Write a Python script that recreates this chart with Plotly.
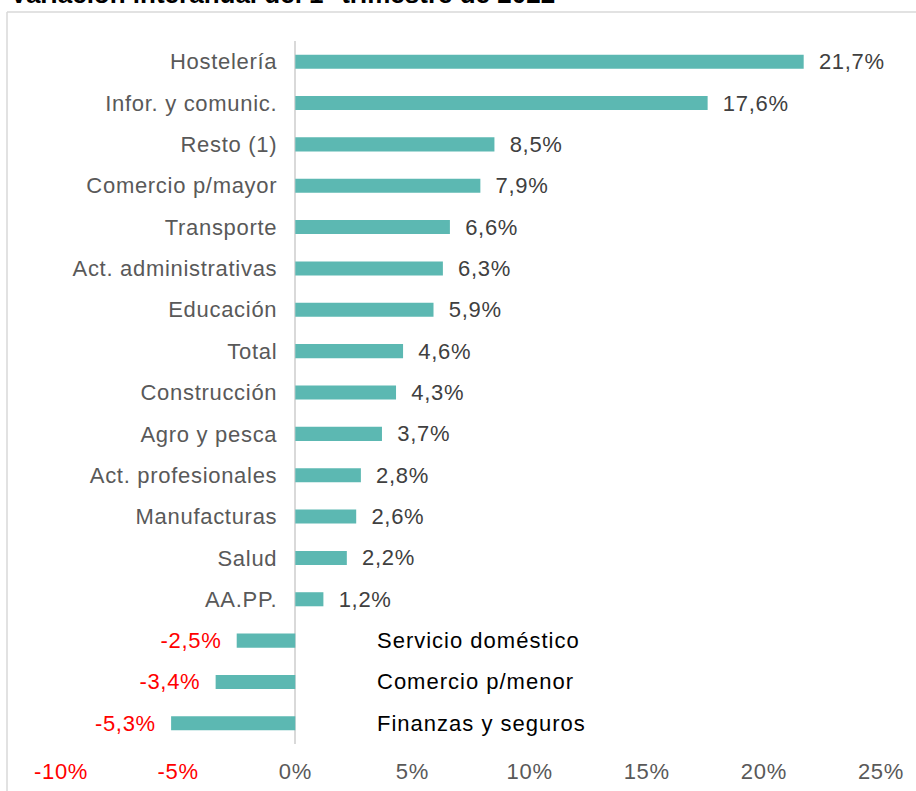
import plotly.graph_objects as go

categories = ["Hostelería", "Infor. y comunic.", "Resto (1)", "Comercio p/mayor", "Transporte",
              "Act. administrativas", "Educación", "Total", "Construcción", "Agro y pesca",
              "Act. profesionales", "Manufacturas", "Salud", "AA.PP.", "Servicio doméstico",
              "Comercio p/menor", "Finanzas y seguros"]
values = [21.7, 17.6, 8.5, 7.9, 6.6, 6.3, 5.9, 4.6, 4.3, 3.7, 2.8, 2.6, 2.2, 1.2, -2.5, -3.4, -5.3]
x_ticks = [-10, -5, 0, 5, 10, 15, 20, 25]
x_range = [-10, 25]
title_text = "Variación interanual del 1° trimestre de 2022"

FONT = "Liberation Sans, Arial, sans-serif"
BAR = "#5CB8B2"
NBSP = "\u00a0"
LS = "letter-spacing:0.7px"

def spaced(s, ls=LS):
    return f"<span style='{ls}'>{s}</span>"

def fmt(v):
    s = f"{v:.1f}".replace(".", ",") + "%"
    return NBSP * 2 + spaced(s) if v >= 0 else spaced(s) + NBSP * 2

texts = [fmt(v) for v in values]
text_colors = ["#404040" if v >= 0 else "#FF0000" for v in values]

fig = go.Figure(go.Bar(
    x=values, y=categories, orientation="h",
    marker=dict(color=BAR, line=dict(width=0)),
    text=texts, textposition="outside", cliponaxis=False, constraintext="none",
    textfont=dict(family=FONT, size=22, color=text_colors),
    hoverinfo="skip",
))

tick_text = []
for v in x_ticks:
    lab = f"{v}%"
    if v < 0:
        lab = f"<span style='color:#FF0000;{LS}'>{lab}</span>"
    else:
        lab = spaced(lab)
    tick_text.append(lab)

W, H = 916, 791
ML, MR, MT, MB = 61, 35, 41, 47
PW = W - ML - MR
PH = H - MT - MB

def px_x(p):
    return (p - ML) / PW

def px_y(p):
    return (H - MB - p) / PH

zero_pos = (0 - x_range[0]) / (x_range[1] - x_range[0])

annotations = []
for c, v in zip(categories, values):
    if v < 0:
        annotations.append(dict(x=0, y=c, xref="x", yref="y", text=spaced(c, "letter-spacing:1px"),
                                showarrow=False, xanchor="left", xshift=80,
                                font=dict(family=FONT, size=22, color="#000000")))

annotations.append(dict(x=px_x(8), y=px_y(11), xref="paper", yref="paper", text=f"<b>{title_text}</b>",
                        showarrow=False, xanchor="left", yanchor="bottom",
                        font=dict(family=FONT, size=26, color="#000000")))

shapes = [
    dict(type="line", xref="paper", yref="paper", x0=px_x(7), x1=px_x(930), y0=px_y(12), y1=px_y(12),
         line=dict(color="#D9D9D9", width=1.5)),
    dict(type="line", xref="paper", yref="paper", x0=px_x(7), x1=px_x(7), y0=px_y(12), y1=px_y(800),
         line=dict(color="#D9D9D9", width=1.5)),
]

fig.update_layout(
    width=W, height=H,
    margin=dict(l=ML, r=MR, t=MT, b=MB, autoexpand=False),
    paper_bgcolor="white", plot_bgcolor="white",
    showlegend=False,
    bargap=0.66,
    font=dict(family=FONT, size=22, color="#595959"),
    xaxis=dict(range=x_range, tickvals=x_ticks, ticktext=tick_text, showgrid=False,
               zeroline=True, zerolinecolor="#D9D9D9", zerolinewidth=1.5,
               showline=False, ticks="", ticklabelstandoff=12, automargin=False,
               tickfont=dict(family=FONT, size=22, color="#595959")),
    yaxis=dict(categoryorder="array", categoryarray=categories, autorange="reversed",
               tickvals=categories,
               ticktext=[spaced(c) if v >= 0 else "" for c, v in zip(categories, values)],
               anchor="free", position=zero_pos,
               showgrid=False, zeroline=False, showline=False, ticks="",
               ticklabelstandoff=18, automargin=False,
               tickfont=dict(family=FONT, size=22, color="#595959")),
    annotations=annotations,
    shapes=shapes,
)

fig.write_html("out.html", config=dict(displayModeBar=False),
               post_script="document.body.style.margin='0';document.body.style.overflow='hidden';")
